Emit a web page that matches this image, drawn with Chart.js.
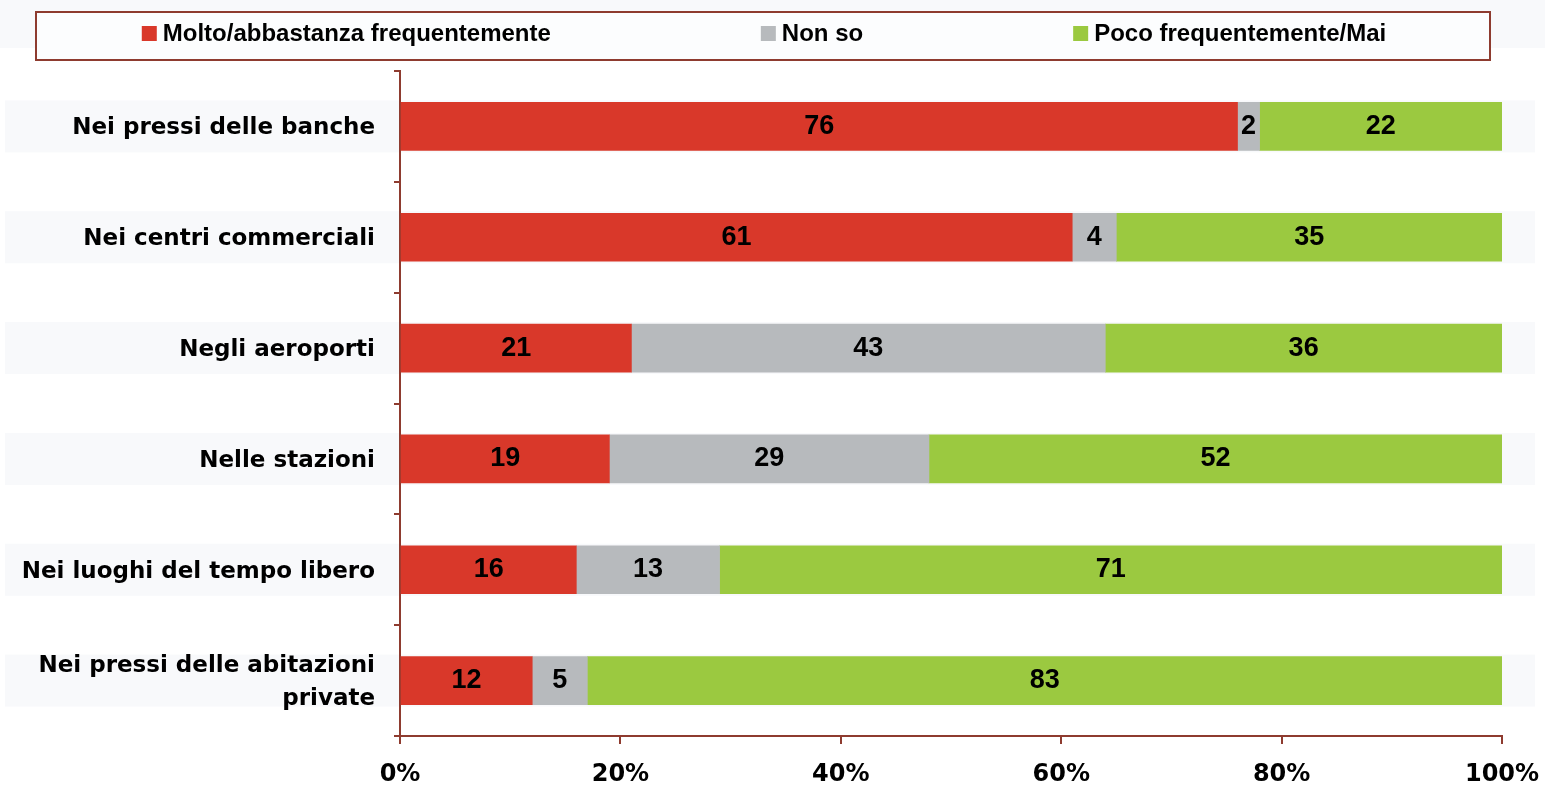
<!DOCTYPE html>
<html><head><meta charset="utf-8">
<script src="https://cdn.jsdelivr.net/npm/chart.js@4.4.1/dist/chart.umd.min.js"></script>
<style>html,body{margin:0;padding:0;background:#fff;overflow:hidden;} #wrap{width:1545px;height:787px;position:relative;}</style>
</head><body><div id="wrap"><canvas id="c"></canvas></div>
<script>
const categories = ['Nei pressi delle banche', 'Nei centri commerciali', 'Negli aeroporti', 'Nelle stazioni', 'Nei luoghi del tempo libero', ['Nei pressi delle abitazioni', 'private']];
const seriesNames = ['Molto/abbastanza frequentemente', 'Non so', 'Poco frequentemente/Mai'];
const molto = [76, 61, 21, 19, 16, 12];
const nonSo = [2, 4, 43, 29, 13, 5];
const poco = [22, 35, 36, 52, 71, 83];
const xTicks = [0, 20, 40, 60, 80, 100];
const colors = ['#D9382A', '#B7BABD', '#9BC940'];
const axisColor = '#8E3B2F';

const bandsPlugin = {
  id: 'bands',
  beforeDraw(chart) {
    const ctx = chart.ctx, y = chart.scales.y;
    ctx.save();
    ctx.fillStyle = '#F8F9FB';
    ctx.fillRect(0, 0, chart.width, 48);
    categories.forEach((c, i) => {
      const py = y.getPixelForValue(i);
      ctx.fillRect(5, py - 26, 1530, 52);
    });
    ctx.restore();
  }
};

const legendPlugin = {
  id: 'customLegend',
  afterDraw(chart) {
    const ctx = chart.ctx;
    ctx.save();
    ctx.fillStyle = '#FCFDFE';
    ctx.fillRect(36, 12, 1454, 48);
    ctx.strokeStyle = axisColor;
    ctx.lineWidth = 2;
    ctx.strokeRect(36, 12, 1454, 48);
    ctx.font = 'bold 24px "Liberation Sans", Arial, sans-serif';
    ctx.textBaseline = 'middle';
    const box = 15, gapText = 6, gap = 210;
    const ds = chart.data.datasets;
    const widths = ds.map(d => box + gapText + ctx.measureText(d.label).width);
    const total = widths.reduce((a, b) => a + b, 0) + gap * (ds.length - 1);
    let x = 764 - total / 2;
    const cy = 34;
    ds.forEach((d, i) => {
      ctx.fillStyle = d.backgroundColor;
      ctx.fillRect(x, cy - 8, box, box);
      ctx.fillStyle = '#000';
      ctx.textAlign = 'left';
      ctx.fillText(d.label, x + box + gapText, cy);
      x += widths[i] + gap;
    });
    ctx.restore();
  }
};

const valuePlugin = {
  id: 'values',
  afterDatasetsDraw(chart) {
    const ctx = chart.ctx;
    ctx.save();
    ctx.font = 'bold 27px "Liberation Sans", Arial, sans-serif';
    ctx.fillStyle = '#000';
    ctx.textAlign = 'center';
    ctx.textBaseline = 'middle';
    chart.data.datasets.forEach((d, di) => {
      const meta = chart.getDatasetMeta(di);
      meta.data.forEach((bar, i) => {
        const cx = (bar.x + bar.base) / 2;
        ctx.fillText(String(d.data[i]), cx, bar.y);
      });
    });
    ctx.restore();
  }
};

new Chart(document.getElementById('c'), {
  type: 'bar',
  data: {
    labels: categories,
    datasets: [
      { label: seriesNames[0], data: molto, backgroundColor: colors[0] },
      { label: seriesNames[1], data: nonSo, backgroundColor: colors[1] },
      { label: seriesNames[2], data: poco, backgroundColor: colors[2] }
    ]
  },
  options: {
    indexAxis: 'y',
    responsive: true,
    maintainAspectRatio: false,
    animation: false,
    layout: { padding: { top: 71, right: 43, left: 0, bottom: 0 } },
    datasets: { bar: { barThickness: 48, borderWidth: 0 } },
    plugins: { legend: { display: false }, tooltip: { enabled: false } },
    scales: {
      x: {
        type: 'linear', stacked: true, min: 0, max: 100,
        afterBuildTicks(s) { s.ticks = xTicks.map(v => ({ value: v })); },
        afterFit(s) { s.height = 51; s.paddingRight = 0; s.paddingLeft = 0; },
        ticks: { callback: v => v + '%', color: '#000', padding: 16, maxRotation: 0,
          font: { family: '"DejaVu Sans", Verdana, sans-serif', size: 24, weight: 'bold' } },
        grid: { drawOnChartArea: false, drawTicks: true, tickLength: 8, color: axisColor, lineWidth: 2 },
        border: { color: axisColor, width: 2 }
      },
      y: {
        type: 'category', stacked: true,
        afterFit(s) { s.width = 400; },
        ticks: { color: '#000', padding: 19, autoSkip: false, labelOffset: 2,
          font: { family: '"DejaVu Sans", Verdana, sans-serif', size: 23, weight: 'bold', lineHeight: 1.45 } },
        grid: { drawOnChartArea: false, drawTicks: true, tickLength: 6, color: axisColor, lineWidth: 2, offset: true },
        border: { color: axisColor, width: 2 }
      }
    }
  },
  plugins: [bandsPlugin, legendPlugin, valuePlugin]
});
</script>
</body></html>
